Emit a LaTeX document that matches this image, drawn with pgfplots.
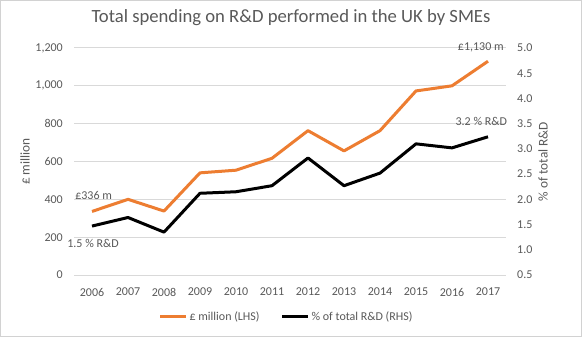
\documentclass[border=0pt]{standalone}
\usepackage{fontspec}
\setmainfont{Carlito}
\usepackage{pgfplots}
\pgfplotsset{compat=1.18}
\definecolor{exorange}{RGB}{237,125,49}
\definecolor{txtgray}{RGB}{89,89,89}
\definecolor{gridgray}{RGB}{217,217,217}
\definecolor{framegray}{RGB}{210,210,210}
\begin{document}
\begin{tikzpicture}
\useasboundingbox (0,0) rectangle (582bp,337bp);
\fill[white] (0,0) rectangle (582bp,337bp);
\draw[framegray, line width=1bp] (0.5bp,0.5bp) rectangle (581.5bp,336.5bp);
\node[text=txtgray, font=\fontsize{18.67bp}{20bp}\selectfont] at (291bp,319bp) {Total spending on R\&D performed in the UK by SMEs};
\begin{axis}[
  at={(74bp,62bp)}, anchor=south west,
  scale only axis, width=432bp, height=227bp,
  xmin=-0.5, xmax=11.5, ymin=0, ymax=1200,
  xtick={0,...,11},
  xticklabels={2006,2007,2008,2009,2010,2011,2012,2013,2014,2015,2016,2017},
  ytick={0,200,...,1200},
  /pgf/number format/assume math mode=true,
  /pgf/number format/1000 sep={,},
  axis line style={draw=none},
  major tick length=0pt,
  ymajorgrids, grid style={gridgray, line width=1bp},
  tick label style={text=txtgray, font=\fontsize{12bp}{14bp}\selectfont},
  yticklabel style={anchor=east, inner sep=0pt, xshift=-11bp},
  xticklabel style={anchor=north, inner sep=0pt, yshift=-13bp},
  ylabel={£ million},
  every axis y label/.style={at={(rel axis cs:0,0.5)}, rotate=90, anchor=center, yshift=49bp, text=txtgray, font=\fontsize{13.3bp}{15bp}\selectfont},
  clip=false,
]
\addplot[exorange, line width=3bp, line join=round] coordinates {
(0,336) (1,400) (2,338) (3,540) (4,554) (5,617) (6,763) (7,656) (8,763) (9,973) (10,1000) (11,1130)};
\node[anchor=west, inner sep=0pt, text=txtgray, font=\fontsize{12bp}{14bp}\selectfont] at (axis cs:-0.47,418) {£336 m};
\node[anchor=west, inner sep=0pt, text=txtgray, font=\fontsize{12bp}{14bp}\selectfont] at (axis cs:-0.69,169) {1.5 \% R\&D};
\node[anchor=east, inner sep=0pt, text=txtgray, font=\fontsize{12bp}{14bp}\selectfont] at (axis cs:11.44,1205) {£1,130 m};
\node[anchor=east, inner sep=0pt, text=txtgray, font=\fontsize{12bp}{14bp}\selectfont] at (axis cs:11.53,814) {3.2 \% R\&D};
\end{axis}
\begin{axis}[
  at={(74bp,62bp)}, anchor=south west,
  scale only axis, width=432bp, height=227bp,
  xmin=-0.5, xmax=11.5, ymin=0.5, ymax=5,
  axis x line=none,
  axis y line*=right,
  ytick={0.5,1,...,5},
  /pgf/number format/assume math mode=true,
  /pgf/number format/.cd, fixed, fixed zerofill, precision=1, /pgfplots/.cd,
  axis line style={draw=none},
  major tick length=0pt,
  tick label style={text=txtgray, font=\fontsize{12bp}{14bp}\selectfont},
  yticklabel style={anchor=west, inner sep=0pt, xshift=11bp},
  ylabel={\% of total R\&D},
  every axis y label/.style={at={(rel axis cs:1,0.5)}, rotate=90, anchor=center, yshift=-37bp, text=txtgray, font=\fontsize{13.3bp}{15bp}\selectfont},
  legend style={at={(rel axis cs:0.492,-0.185)}, anchor=center, draw=none, fill=none,
    legend columns=2, font=\fontsize{12bp}{14bp}\selectfont, text=txtgray,
    /tikz/every even column/.append style={column sep=19bp}},
  legend image code/.code={\draw[#1] (0bp,0bp) -- (26bp,0bp);},
  clip=false,
]
\addlegendimage{exorange, line width=3bp}
\addlegendentry{£ million (LHS)}
\addplot[black, line width=3bp, line join=round] coordinates {
(0,1.47) (1,1.64) (2,1.35) (3,2.12) (4,2.15) (5,2.27) (6,2.82) (7,2.27) (8,2.52) (9,3.10) (10,3.02) (11,3.24)};
\addlegendentry{\% of total R\&D (RHS)}
\end{axis}
\end{tikzpicture}
\end{document}
